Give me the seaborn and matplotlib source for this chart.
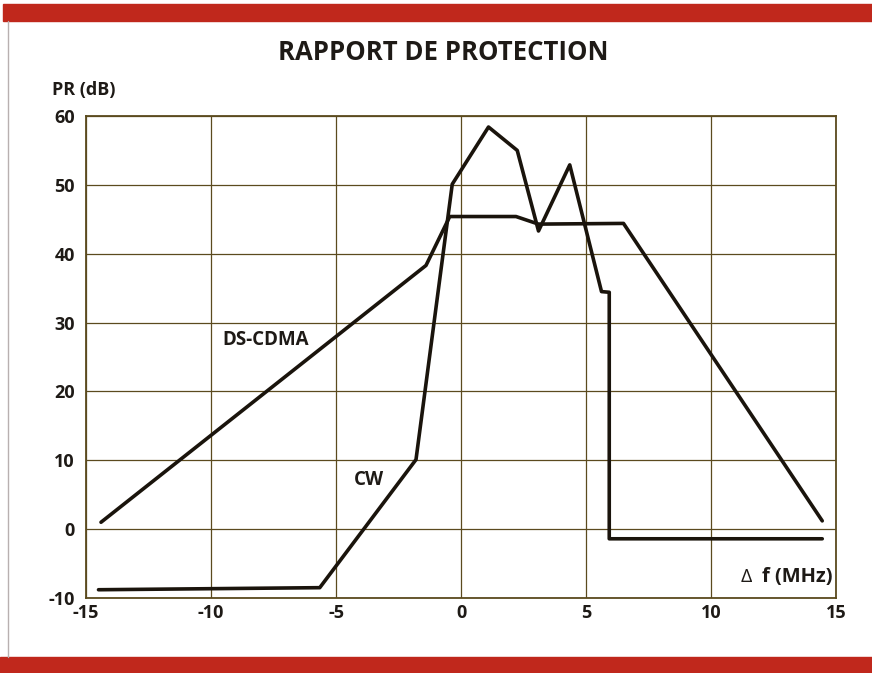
import matplotlib
matplotlib.use("Agg")
import matplotlib.pyplot as plt
import seaborn as sns
import pandas as pd
from matplotlib.patches import Rectangle
from matplotlib.lines import Line2D

# Protection ratio curves (frequency offset in MHz, PR in dB)
ds_cdma_f = [-14.4, -1.4, -0.45, 2.2, 3.1, 6.5, 14.45]
ds_cdma_pr = [1.0, 38.3, 45.4, 45.4, 44.3, 44.4, 1.2]

cw_f = [-14.5, -5.65, -1.8, -0.35, 1.1, 2.25, 3.1, 4.35, 5.62, 5.93, 5.93, 14.45]
cw_pr = [-8.8, -8.5, 10.1, 50.1, 58.4, 55.0, 43.3, 52.9, 34.5, 34.4, -1.4, -1.4]

x_ticks = [-15, -10, -5, 0, 5, 10, 15]
y_ticks = [-10, 0, 10, 20, 30, 40, 50, 60]

title = "RAPPORT DE PROTECTION"
y_label = "PR (dB)"
x_label = "f (MHz)"

sns.set_style("white")
plt.rcParams["font.family"] = ["Open Sans", "DejaVu Sans"]

grid_col = "#5b4a1e"
red = "#c0281c"
ink = "#1e1a16"

fig = plt.figure(figsize=(8.72, 6.73), dpi=100)
ax = fig.add_axes([86 / 872, 1 - 598 / 673, 750 / 872, 482 / 673])

df_ds = pd.DataFrame({"f": ds_cdma_f, "pr": ds_cdma_pr})
df_cw = pd.DataFrame({"f": cw_f, "pr": cw_pr})
sns.lineplot(data=df_ds, x="f", y="pr", sort=False, estimator=None,
             color="#1a140c", lw=2.6, ax=ax, zorder=3)
sns.lineplot(data=df_cw, x="f", y="pr", sort=False, estimator=None,
             color="#1a140c", lw=2.6, ax=ax, zorder=3)

ax.set_xlim(-15, 15)
ax.set_ylim(-10, 60)
ax.set_xticks(x_ticks)
ax.set_yticks(y_ticks)
ax.set_xticklabels([str(v) for v in x_ticks], fontweight="bold", fontsize=13)
ax.set_yticklabels([str(v) for v in y_ticks], fontweight="bold", fontsize=13)
ax.tick_params(axis="both", length=0, colors=ink)
ax.tick_params(axis="x", pad=4)
ax.tick_params(axis="y", pad=8)
ax.set_xlabel("")
ax.set_ylabel("")
ax.grid(True, color=grid_col, lw=0.9)
ax.set_axisbelow(True)
for s in ax.spines.values():
    s.set_color(grid_col)
    s.set_linewidth(1.3)

ax.text(-7.8, 27.4, "DS-CDMA", fontsize=13.5, fontweight="bold",
        ha="center", va="center", color=ink)
ax.text(-3.7, 7.2, "CW", fontsize=13.5, fontweight="bold",
        ha="center", va="center", color=ink)
# frequency-offset label: thin delta sign followed by the bold unit text
ax.text(14.85, -7.0, x_label, fontsize=14.5, fontweight="bold",
        ha="right", va="center", color=ink)
ax.text(11.2, -7.0, "\u0394", fontsize=14, fontweight="normal",
        ha="left", va="center", color=ink)

fig.text(443 / 872, 1 - 53 / 673, title, fontsize=18.5, fontweight="bold",
         ha="center", va="center", color=ink)
fig.text(52 / 872, 1 - 90 / 673, y_label, fontsize=13, fontweight="bold",
         ha="left", va="center", color=ink)

# red page bands and the thin page edge on the left
fig.patches.append(Rectangle((3 / 872, 1 - 21 / 673), 1, 17 / 673,
                             transform=fig.transFigure, color=red, zorder=0))
fig.patches.append(Rectangle((0, 0), 1, 16 / 673,
                             transform=fig.transFigure, color=red, zorder=0))
fig.lines.append(Line2D([7.5 / 872, 7.5 / 872], [16 / 673, 1 - 21 / 673],
                        transform=fig.transFigure, color="#b8b0b0", lw=1.0))

fig.savefig("out.png", dpi=100)
